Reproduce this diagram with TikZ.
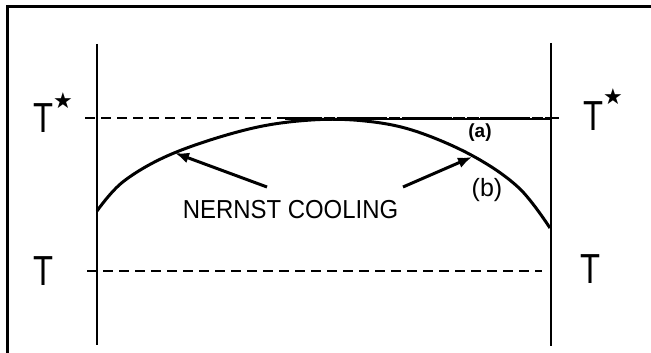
\documentclass[tikz,border=0pt]{standalone}
\usepackage{fontspec}
\setmainfont{Liberation Sans}
\newfontfamily\symfont{DejaVu Sans}
\usetikzlibrary{arrows.meta}
\begin{document}
\begin{tikzpicture}[x=1pt,y=-1pt,
  frameline/.style={line width=3pt},
  wall/.style={line width=2.5pt},
  curveline/.style={line width=3pt},
  thindash/.style={line width=2pt, dash pattern=on 10pt off 6pt},
  thickdash/.style={line width=3.4pt, dash pattern=on 11pt off 2pt},
  pointer/.style={line width=3pt, -{Latex[length=14pt,width=11pt]}},
  tlabel/.style={inner sep=0pt, font=\fontsize{42}{42}\selectfont, xscale=0.78, anchor=base},
  starlbl/.style={inner sep=0pt, font=\symfont\fontsize{22}{22}\selectfont},
  caption/.style={inner sep=0pt, font=\fontsize{26}{26}\selectfont, xscale=0.92, anchor=base},
  smalllbl/.style={inner sep=0pt, font=\fontsize{19}{19}\selectfont\bfseries},
  biglbl/.style={inner sep=0pt, font=\fontsize{25}{25}\selectfont}
]
\useasboundingbox (0,0) rectangle (651,353);
% frame (top and left only)
\draw[frameline] (7.5,6.5) -- (651,6.5);
\draw[frameline] (7.5,5) -- (7.5,353);
% walls
\coordinate (lwt) at (97,44);
\coordinate (lwb) at (97,345);
\coordinate (rwt) at (551,43);
\coordinate (rwb) at (551,346);
\draw[wall] (lwt) -- (lwb);
\draw[wall] (rwt) -- (rwb);
% T* line
\coordinate (tsa) at (85,118);
\coordinate (tsb) at (560,118);
\coordinate (tsc) at (285,118.5);
\coordinate (tsd) at (551,118.5);
\draw[thindash] (tsa) -- (tsb);
\draw[line width=2pt] (tsc) -- (tsd);
\draw[thickdash] (tsc) -- (tsd);
% T line
\coordinate (ta) at (87,271);
\coordinate (tb) at (542,271);
\draw[thindash] (ta) -- (tb);
% curve
\draw[curveline, line join=round] plot[smooth, tension=0.6] coordinates {
  (97,211) (124,181) (174,153) (249,129) (311,120) (365,121) (415,131) (473,156) (519,188) (550,228)};
% labels
\node[tlabel] (tsl) at (44,132) {T};
\node[starlbl] (ssl) at (63,101) {★};
\node[tlabel] (tsr) at (593,130) {T};
\node[starlbl] (ssr) at (613,97) {★};
\node[tlabel] (tl) at (44,285) {T};
\node[tlabel] (tr) at (591,283) {T};
\node[caption] (nc) at (290.5,218) {NERNST COOLING};
\node[smalllbl] (la) at (480,133) {(a)};
\node[biglbl] (lb) at (487,190) {(b)};
% arrows
\coordinate (al0) at (267,187);
\coordinate (al1) at (175,153);
\coordinate (ar0) at (403,187);
\coordinate (ar1) at (472,157);
\draw[pointer] (al0) -- (al1);
\draw[pointer] (ar0) -- (ar1);
\end{tikzpicture}
\end{document}
